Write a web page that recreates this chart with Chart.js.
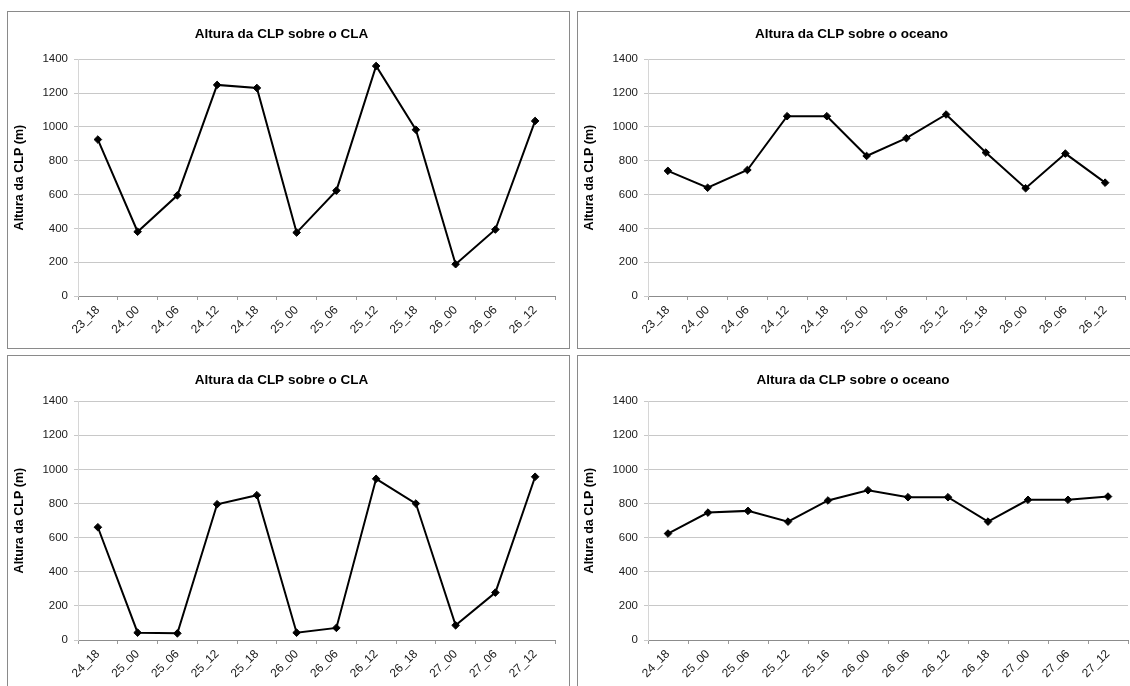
<!DOCTYPE html>
<html>
<head>
<meta charset="utf-8">
<script src="https://cdn.jsdelivr.net/npm/chart.js@4/dist/chart.umd.min.js"></script>
<style>
  html, body { margin: 0; padding: 0; background: #fff; overflow: hidden; }
  body { width: 1130px; height: 686px; position: relative; }
  .panel { position: absolute; border: 1px solid #8a8a8a; background: #fff; box-sizing: border-box; }
  .panel canvas { position: absolute; left: 0; top: 0; }
</style>
</head>
<body>
<div class="panel" id="p1" style="left:7px; top:11px; width:563px; height:338px;"><canvas id="c1"></canvas></div>
<div class="panel" id="p2" style="left:577px; top:11px; width:560px; height:338px;"><canvas id="c2"></canvas></div>
<div class="panel" id="p3" style="left:7px; top:355px; width:563px; height:340px;"><canvas id="c3"></canvas></div>
<div class="panel" id="p4" style="left:577px; top:355px; width:560px; height:340px;"><canvas id="c4"></canvas></div>
<script>
// Time labels (day_hour) for each period
const catsTop = ['23_18', '24_00', '24_06', '24_12', '24_18', '25_00', '25_06', '25_12', '25_18', '26_00', '26_06', '26_12'];
const catsBottom = ['24_18', '25_00', '25_06', '25_12', '25_18', '26_00', '26_06', '26_12', '26_18', '27_00', '27_06', '27_12'];
const catsBottomOcean = ['24_18', '25_00', '25_06', '25_12', '25_16', '26_00', '26_06', '26_12', '26_18', '27_00', '27_06', '27_12'];

// Boundary-layer (CLP) height, metres
const claTop = [925, 380, 595, 1248, 1230, 375, 623, 1360, 983, 188, 393, 1035];
const oceanTop = [740, 640, 745, 1063, 1063, 828, 933, 1073, 848, 637, 842, 670];
const claBottom = [661, 43, 39, 796, 849, 43, 71, 945, 800, 86, 278, 957];
const oceanBottom = [624, 747, 757, 694, 818, 878, 837, 837, 694, 822, 822, 841];

// Vertical axis range
const yMin = 0;
const yMax = 1400;
const yStep = 200;

const titleCLA = 'Altura da CLP sobre o CLA';
const titleOcean = 'Altura da CLP sobre o oceano';
const yTitle = 'Altura da CLP (m)';

const FONT = "'Liberation Sans', Arial, sans-serif";

function makeChart(canvasId, w, h, labels, values, title, geom) {
  const cv = document.getElementById(canvasId);
  cv.width = w; cv.height = h;
  cv.style.width = w + 'px'; cv.style.height = h + 'px';
  return new Chart(cv, {
    type: 'line',
    data: {
      labels: labels,
      datasets: [{
        data: values,
        borderColor: '#000',
        backgroundColor: '#000',
        borderWidth: 2,
        pointStyle: 'rectRot',
        pointRadius: 3.8,
        pointBackgroundColor: '#000',
        pointBorderColor: '#000',
        pointBorderWidth: 1,
        tension: 0,
        fill: false
      }]
    },
    options: {
      responsive: false,
      animation: false,
      devicePixelRatio: 1,
      layout: { padding: { left: 0, right: geom.right, top: 0, bottom: 0 } },
      plugins: {
        legend: { display: false },
        tooltip: { enabled: false },
        title: {
          display: true,
          text: title,
          color: '#000',
          font: { family: FONT, size: 13.5, weight: 'bold' },
          padding: { top: geom.titleTop, bottom: geom.titleBottom }
        }
      },
      scales: {
        x: {
          type: 'category',
          offset: true,
          grid: {
            display: true,
            offset: true,
            drawOnChartArea: false,
            drawTicks: true,
            tickLength: 4,
            color: '#9a9a9a'
          },
          border: { display: true, color: '#8c8c8c', width: 1 },
          ticks: {
            autoSkip: false,
            maxRotation: 45,
            minRotation: 45,
            padding: 3,
            color: '#1a1a1a',
            font: { family: FONT, size: 12 }
          },
          afterFit: (s) => { s.height = geom.xHeight; }
        },
        y: {
          min: yMin,
          max: yMax,
          ticks: {
            stepSize: yStep,
            padding: 6,
            color: '#1a1a1a',
            font: { family: FONT, size: 11.5 },
            callback: (v) => String(v)
          },
          grid: {
            color: '#c8c8c8',
            lineWidth: 1,
            drawTicks: true,
            tickLength: 4
          },
          border: { display: true, color: '#d6d6d6', width: 1 },
          title: {
            display: true,
            text: yTitle,
            color: '#000',
            font: { family: FONT, size: 12.5, weight: 'bold' },
            padding: { top: 4, bottom: 0 }
          },
          afterFit: (s) => { s.width = geom.yWidth; }
        }
      }
    }
  });
}

// upper row: panels 1 and 2
makeChart('c1', 561, 336, catsTop, claTop, titleCLA,
  { right: 14, titleTop: 14, titleBottom: 17, xHeight: 52, yWidth: 70 });
makeChart('c2', 558, 336, catsTop, oceanTop, titleOcean,
  { right: 11, titleTop: 14, titleBottom: 17, xHeight: 52, yWidth: 70 });
// lower row: panels 3 and 4
makeChart('c3', 561, 330, catsBottom, claBottom, titleCLA,
  { right: 14, titleTop: 16, titleBottom: 13, xHeight: 46, yWidth: 70 });
makeChart('c4', 558, 330, catsBottomOcean, oceanBottom, titleOcean,
  { right: 8, titleTop: 16, titleBottom: 13, xHeight: 46, yWidth: 70 });
</script>
</body>
</html>
